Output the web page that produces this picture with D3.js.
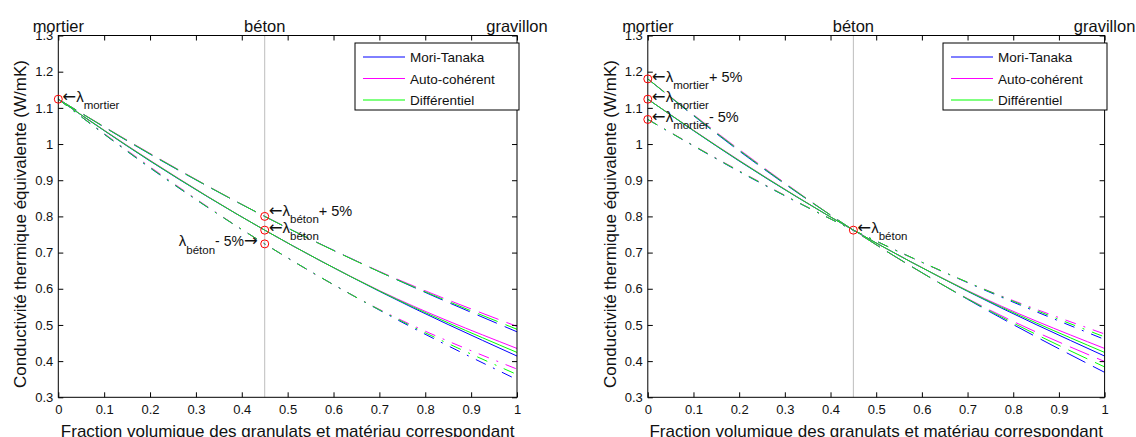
<!DOCTYPE html>
<html><head><meta charset="utf-8">
<script src="https://cdn.jsdelivr.net/npm/d3@7"></script>
<style>
body{margin:0;background:#fff;}
svg{display:block;}
text{font-family:"Liberation Sans",Arial,Helvetica,sans-serif;fill:#111;}
</style>
</head><body>
<svg id="chart" width="1136" height="437"></svg>
<script>
// ---------- data ----------
const fractions = [0, 0.2, 0.45, 0.7, 1];
const modelNames = ["Mori-Tanaka", "Auto-cohérent", "Différentiel"];
const modelColors = ["#0000ff", "#ff00ff", "#00ff00"];

// nominal (λ mortier = 1.124, λ béton = 0.762)
const mtNominal = [1.124, 0.953, 0.762, 0.593, 0.414];
const scNominal = [1.124, 0.955, 0.762, 0.595, 0.435];
const dfNominal = [1.124, 0.954, 0.762, 0.594, 0.424];

// left panel: λ béton + 5 %
const mtBetonPlus = [1.124, 0.972, 0.800, 0.647, 0.481];
const scBetonPlus = [1.124, 0.974, 0.800, 0.648, 0.496];
const dfBetonPlus = [1.124, 0.973, 0.800, 0.647, 0.488];
// left panel: λ béton - 5 %
const mtBetonMinus = [1.124, 0.934, 0.724, 0.541, 0.349];
const scBetonMinus = [1.124, 0.937, 0.724, 0.543, 0.378];
const dfBetonMinus = [1.124, 0.935, 0.724, 0.542, 0.363];

// right panel: λ mortier + 5 %
const mtMortierPlus = [1.180, 0.981, 0.762, 0.571, 0.369];
const scMortierPlus = [1.180, 0.985, 0.762, 0.573, 0.399];
const dfMortierPlus = [1.180, 0.983, 0.762, 0.572, 0.384];
// right panel: λ mortier - 5 %
const mtMortierMinus = [1.068, 0.924, 0.762, 0.617, 0.460];
const scMortierMinus = [1.068, 0.926, 0.762, 0.618, 0.475];
const dfMortierMinus = [1.068, 0.925, 0.762, 0.618, 0.467];

// reference points
const leftPoints = [[0, 1.124], [0.45, 0.800], [0.45, 0.762], [0.45, 0.724]];
const rightPoints = [[0, 1.180], [0, 1.124], [0, 1.068], [0.45, 0.762]];

const xTicks = [0, 0.1, 0.2, 0.3, 0.4, 0.5, 0.6, 0.7, 0.8, 0.9, 1];
const xTickLabels = ["0", "0.1", "0.2", "0.3", "0.4", "0.5", "0.6", "0.7", "0.8", "0.9", "1"];
const yTicks = [0.3, 0.4, 0.5, 0.6, 0.7, 0.8, 0.9, 1, 1.1, 1.2, 1.3];
const yTickLabels = ["0.3", "0.4", "0.5", "0.6", "0.7", "0.8", "0.9", "1", "1.1", "1.2", "1.3"];

const topLabels = ["mortier", "béton", "gravillon"];
const topLabelPos = [0, 0.45, 1];
const xTitle = "Fraction volumique des granulats et matériau correspondant";
const yTitle = "Conductivité thermique équivalente (W/mK)";

// ---------- drawing ----------
const svg = d3.select("#chart");
const styles = {solid: null, dashed: "21,8.5", dashdot: "11,8,2,8"};

const panels = [
  {x0: 58.3, x1: 517, legendX: 355,
   sets: [
     {style: "solid", data: [mtNominal, scNominal, dfNominal]},
     {style: "dashed", data: [mtBetonPlus, scBetonPlus, dfBetonPlus]},
     {style: "dashdot", data: [mtBetonMinus, scBetonMinus, dfBetonMinus]}
   ],
   points: leftPoints},
  {x0: 647.8, x1: 1104.6, legendX: 943,
   sets: [
     {style: "solid", data: [mtNominal, scNominal, dfNominal]},
     {style: "dashed", data: [mtMortierPlus, scMortierPlus, dfMortierPlus]},
     {style: "dashdot", data: [mtMortierMinus, scMortierMinus, dfMortierMinus]}
   ],
   points: rightPoints}
];

const yTop = 35.5, yBot = 397.3;

panels.forEach((p, pi) => {
  const x = d3.scaleLinear().domain([0, 1]).range([p.x0, p.x1]);
  const y = d3.scaleLinear().domain([0.3, 1.3]).range([yBot, yTop]);
  const g = svg.append("g");

  const clipId = "clip" + pi;
  svg.append("defs").append("clipPath").attr("id", clipId)
    .append("rect").attr("x", p.x0).attr("y", yTop).attr("width", p.x1 - p.x0).attr("height", yBot - yTop);

  // vertical béton line
  g.append("line").attr("x1", x(0.45)).attr("x2", x(0.45)).attr("y1", yTop).attr("y2", yBot)
    .attr("stroke", "#bdbdbd").attr("stroke-width", 1);

  // curves
  const line = d3.line().x((d, i) => x(fractions[i])).y(d => y(d)).curve(d3.curveMonotoneX);
  const cg = g.append("g").attr("clip-path", `url(#${clipId})`);
  p.sets.forEach(s => {
    s.data.forEach((vals, mi) => {
      cg.append("path").attr("d", line(vals)).attr("fill", "none")
        .attr("stroke", modelColors[mi]).attr("stroke-width", 1)
        .attr("stroke-dasharray", styles[s.style]);
    });
  });

  // axes (inward ticks)
  const ax = g.append("g").attr("transform", `translate(0,${yBot})`)
    .call(d3.axisBottom(x).tickValues(xTicks).tickFormat((d, i) => xTickLabels[i]).tickSize(-5).tickPadding(7));
  const axT = g.append("g").attr("transform", `translate(0,${yTop})`)
    .call(d3.axisTop(x).tickValues(xTicks).tickFormat("").tickSize(-5));
  const ay = g.append("g").attr("transform", `translate(${p.x0},0)`)
    .call(d3.axisLeft(y).tickValues(yTicks).tickFormat((d, i) => yTickLabels[i]).tickSize(-5).tickPadding(5));
  const ayR = g.append("g").attr("transform", `translate(${p.x1},0)`)
    .call(d3.axisRight(y).tickValues(yTicks).tickFormat("").tickSize(-5));
  [ax, axT, ay, ayR].forEach(a => {
    a.select(".domain").remove();
    a.selectAll("line").attr("stroke", "#000");
    a.selectAll("text").attr("font-size", 13).attr("font-family", '"Liberation Sans",Arial,sans-serif').attr("fill", "#111");
  });
  g.append("rect").attr("x", p.x0).attr("y", yTop).attr("width", p.x1 - p.x0).attr("height", yBot - yTop)
    .attr("fill", "none").attr("stroke", "#000").attr("stroke-width", 1);

  // top labels
  topLabels.forEach((t, i) => {
    g.append("text").attr("x", x(topLabelPos[i])).attr("y", 31.5).attr("text-anchor", "middle")
      .attr("font-size", 16.5).text(t);
  });

  // axis titles
  g.append("text").attr("x", (p.x0 + p.x1) / 2).attr("y", 436.5).attr("text-anchor", "middle")
    .attr("font-size", 17).text(xTitle);
  g.append("text").attr("transform", `translate(${p.x0 - 32},${224}) rotate(-90)`)
    .attr("text-anchor", "middle").attr("font-size", 17).text(yTitle);

  // legend
  const lg = g.append("g").attr("transform", `translate(${p.legendX},43)`);
  lg.append("rect").attr("x", 0).attr("y", 0).attr("width", 164).attr("height", 67)
    .attr("fill", "#fff").attr("stroke", "#000").attr("stroke-width", 1);
  modelNames.forEach((name, i) => {
    const ry = 14 + i * 21.5;
    lg.append("line").attr("x1", 8).attr("x2", 50).attr("y1", ry).attr("y2", ry)
      .attr("stroke", modelColors[i]).attr("stroke-width", 1);
    lg.append("text").attr("x", 55).attr("y", ry + 5).attr("font-size", 13.5).text(name);
  });

  // markers
  p.points.forEach(pt => {
    g.append("circle").attr("cx", x(pt[0])).attr("cy", y(pt[1])).attr("r", 4)
      .attr("fill", "none").attr("stroke", "#ff0000").attr("stroke-width", 1);
  });

  p.x = x; p.y = y; p.g = g;
});

// annotations
const arrowFont = '"DejaVu Sans",sans-serif';
function annotRight(p, pt, sub, suffix, shift) {
  const px = p.x(pt[0]), py = p.y(pt[1]) + (shift || 0);
  const t = p.g.append("text").attr("x", px + 4).attr("y", py + 3).attr("font-size", 14);
  t.append("tspan").attr("font-family", arrowFont).attr("font-size", 16.5).text("←");
  t.append("tspan").attr("font-size", 15).text("λ");
  t.append("tspan").attr("font-size", 11.5).attr("dy", 7).text(sub);
  if (suffix) t.append("tspan").attr("dy", -7).attr("font-size", 14.5).text(suffix);
}
function annotLeft(p, pt, sub, suffix) {
  const px = p.x(pt[0]), py = p.y(pt[1]);
  const t = p.g.append("text").attr("x", px - 7).attr("y", py + 2).attr("font-size", 14).attr("text-anchor", "end");
  t.append("tspan").attr("font-size", 15).text("λ");
  t.append("tspan").attr("font-size", 11.5).attr("dy", 8).text(sub);
  t.append("tspan").attr("dy", -8).text(suffix);
  t.append("tspan").attr("font-family", arrowFont).attr("font-size", 16.5).text("→");
}

const L = panels[0], R = panels[1];
annotRight(L, leftPoints[0], "mortier", null, 0);
annotRight(L, leftPoints[1], "béton", "+ 5%", -3);
annotRight(L, leftPoints[2], "béton", null, 0);
annotLeft(L, leftPoints[3], "béton", "- 5%");

annotRight(R, rightPoints[0], "mortier", "+ 5%", 0);
annotRight(R, rightPoints[1], "mortier", null, 0);
annotRight(R, rightPoints[2], "mortier", "- 5%", 0);
annotRight(R, rightPoints[3], "béton", null, 0);
</script>
</body></html>
